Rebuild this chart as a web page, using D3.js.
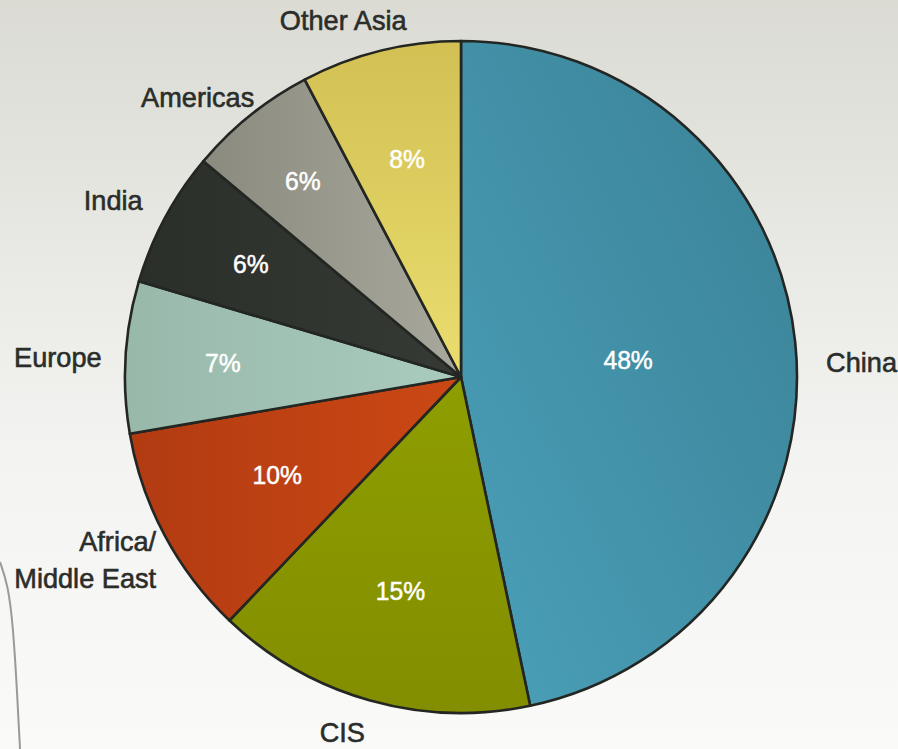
<!DOCTYPE html>
<html>
<head>
<meta charset="utf-8">
<script src="https://cdn.jsdelivr.net/npm/d3@7/dist/d3.min.js"></script>
<style>
  html, body { margin: 0; padding: 0; }
  body { width: 898px; height: 749px; overflow: hidden; }
  svg { display: block; }
  text { font-family: "Liberation Sans", Arial, sans-serif; }
</style>
</head>
<body>
<svg id="chart" width="898" height="749"></svg>
<script>
// ---- data ----
const categories = ["China", "CIS", "Africa/Middle East", "Europe", "India", "Americas", "Other Asia"];
const categoryLines = [["China"], ["CIS"], ["Africa/", "Middle East"], ["Europe"], ["India"], ["Americas"], ["Other Asia"]];
// slice shares as drawn (angular size)
const shares = [46.7, 15.4, 10.2, 7.3, 6.5, 6.2, 7.7];
// percentages printed on the slices
const pctLabels = ["48%", "15%", "10%", "7%", "6%", "6%", "8%"];

// ---- style / layout ----
const colorStops = [
  ["#3a8195", "#4aa0b9"],
  ["#8e9e00", "#838e00"],
  ["#b23b12", "#cb4814"],
  ["#98b8aa", "#a9ccbe"],
  ["#2b2f2a", "#363a34"],
  ["#8a8a7e", "#a8a89c"],
  ["#d2c053", "#eadd6e"]
];
const gradDir = [
  [1, 0, 0, 1], [0, 0, 0, 1], [0, 0, 1, 0], [0, 0, 1, 0], [0, 0, 1, 0], [0, 0, 1, 0], [0, 0, 0, 1]
];
const pctRadiusFrac = [0.5, 0.66, 0.62, 0.71, 0.71, 0.75, 0.67];
const outerNudge = [[9, 22], [-21, 11], [11, 14], [-2, 2], [-3, -7], [18, -1], [-32, -9]];

const W = 898, H = 749;
const cx = 461, cy = 377, R = 336;
const catFont = 28, pctFont = 26;
const catSqueeze = 0.97, pctSqueeze = 0.95;

const svg = d3.select("#chart");
const defs = svg.append("defs");

// background gradient
const bg = defs.append("linearGradient").attr("id", "bg").attr("x1", 0).attr("y1", 0).attr("x2", 0).attr("y2", 1);
bg.append("stop").attr("offset", "0%").attr("stop-color", "#dbdbd4");
bg.append("stop").attr("offset", "60%").attr("stop-color", "#f3f3f1");
bg.append("stop").attr("offset", "100%").attr("stop-color", "#fafaf9");
svg.append("rect").attr("width", W).attr("height", H).attr("fill", "url(#bg)");

// decorative curve at lower left
svg.append("path")
  .attr("d", d3.line().curve(d3.curveBasis)([[0, 562], [8, 585], [13, 625], [17, 690], [20, 749]]))
  .attr("fill", "none").attr("stroke", "#9a9b92").attr("stroke-width", 2);

colorStops.forEach((c, i) => {
  const g = defs.append("linearGradient").attr("id", "g" + i)
    .attr("x1", gradDir[i][0]).attr("y1", gradDir[i][1]).attr("x2", gradDir[i][2]).attr("y2", gradDir[i][3]);
  g.append("stop").attr("offset", "0%").attr("stop-color", c[0]);
  g.append("stop").attr("offset", "100%").attr("stop-color", c[1]);
});

const pie = d3.pie().sort(null).value(d => d)(shares);
const arc = d3.arc().innerRadius(0).outerRadius(R);

const g = svg.append("g").attr("transform", `translate(${cx},${cy})`);

g.selectAll("path.slice")
  .data(pie)
  .join("path")
  .attr("class", "slice")
  .attr("d", arc)
  .attr("fill", (d, i) => `url(#g${i})`)
  .attr("stroke", "#232622")
  .attr("stroke-width", 2.6)
  .attr("stroke-linejoin", "round");

// percentage labels
g.selectAll("text.pct")
  .data(pie)
  .join("text")
  .attr("class", "pct")
  .attr("transform", (d, i) => {
    const a = (d.startAngle + d.endAngle) / 2;
    const r = R * pctRadiusFrac[i];
    return `translate(${r * Math.sin(a)},${-r * Math.cos(a)}) scale(${pctSqueeze},1)`;
  })
  .attr("text-anchor", "middle")
  .attr("dominant-baseline", "central")
  .attr("fill", "#ffffff")
  .attr("stroke", "#ffffff")
  .attr("stroke-width", 0.5)
  .attr("font-size", pctFont)
  .text((d, i) => pctLabels[i]);

// category labels outside
const outerR = R + 22;
const lab = g.selectAll("text.cat")
  .data(pie)
  .join("text")
  .attr("class", "cat")
  .attr("fill", "#2a2d29")
  .attr("stroke", "#2a2d29")
  .attr("stroke-width", 0.6)
  .attr("font-size", catFont)
  .attr("text-anchor", d => {
    const s = Math.sin((d.startAngle + d.endAngle) / 2);
    return s > 0.3 ? "start" : (s < -0.3 ? "end" : "middle");
  })
  .attr("transform", (d, i) => {
    const a = (d.startAngle + d.endAngle) / 2;
    return `translate(${outerR * Math.sin(a) + outerNudge[i][0]},${-outerR * Math.cos(a) + outerNudge[i][1]}) scale(${catSqueeze},1)`;
  });

lab.each(function(d, i) {
  const lines = categoryLines[i];
  const n = lines.length;
  const lh = 37;
  d3.select(this).selectAll("tspan")
    .data(lines)
    .join("tspan")
    .attr("x", 0)
    .attr("y", (l, j) => (j - (n - 1) / 2) * lh)
    .attr("dominant-baseline", "central")
    .text(l => l);
});
</script>
</body>
</html>
